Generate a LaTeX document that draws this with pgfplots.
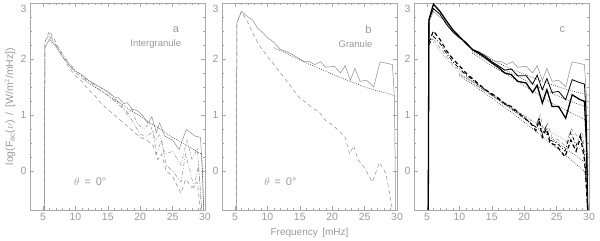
\documentclass[border=0pt]{standalone}
\usepackage{fontspec}
\setmainfont{Liberation Sans}
\usepackage{pgfplots}
\pgfplotsset{compat=1.18}

\definecolor{frame}{HTML}{A8A8A8}
\definecolor{txt}{HTML}{9A9A9A}
\definecolor{ln}{HTML}{8C8C8C}

\pgfplotsset{
  panel/.style={
    scale only axis, width=175pt, height=207pt,
    xmin=3, xmax=30, ymin=-0.7, ymax=3,
    xtick={5,10,...,30}, ytick={0,1,2,3},
    yticklabels={0,1,2,\smash{\raisebox{-9pt}{3}}},
    minor x tick num=4, minor y tick num=3,
    tick align=inside, major tick length=4pt, minor tick length=2pt,
    axis line style={draw=frame, line width=0.6pt},
    tick style={draw=frame, line width=0.4pt},
    tick label style={font=\fontsize{10.5}{12}\selectfont, text=txt},
    label style={font=\fontsize{10}{12}\selectfont, text=txt},
    /pgf/number format/assume math mode=true,
    clip=true,
  },
  gs/.style={ln, line width=0.5pt},
  gd/.style={ln, line width=0.5pt, dash pattern=on 4pt off 3pt},
  gdd/.style={ln, line width=0.5pt, dash pattern=on 4pt off 2pt on 1pt off 2pt},
  gddd/.style={ln, line width=0.5pt, dash pattern=on 3pt off 1.5pt on 0.8pt off 1.5pt on 0.8pt off 1.5pt},
  dot/.style={black!80, line width=0.6pt, dash pattern=on 0.7pt off 1.3pt},
  gdot/.style={ln, line width=0.5pt, dash pattern=on 0.7pt off 1.3pt},
}

\begin{document}
\begin{tikzpicture}
% ---------- panel a
\begin{axis}[panel, at={(0pt,0pt)},
  ylabel={log(F$_{\mathrm{ac}}$($\nu$)\, /\, [W/m$^2$/mHz])},
  every axis y label/.style={at={(axis description cs:-0.115,0.5)}, rotate=90, anchor=center,
    text=txt, font=\fontsize{10.5}{12}\selectfont},
]
\addplot[gs] coordinates {(5.2,-0.7)(5.3,2.2)(6,2.35)(7,2.22)(8,2.05)(9,1.9)(10,1.78)(11,1.72)(12,1.62)(13,1.55)(14,1.48)(15,1.42)(16,1.32)(16.7,1.3)(17.5,1.2)(18,1.22)(18.8,1.1)(19.5,1.08)(20.3,1.0)(21.2,0.85)(21.8,0.97)(22.5,0.68)(23,0.86)(23.8,0.62)(25,0.55)(26,0.38)(27.1,0.74)(28.5,0.62)(29.3,0.6)(29.6,0.0)(29.8,-0.7)};
\addplot[dot] coordinates {(11,1.65)(13,1.5)(15,1.35)(17,1.2)(19,1.05)(21,0.9)(23,0.75)(25,0.6)(27,0.47)(29,0.33)(29.5,0.3)(29.8,-0.7)};
\addplot[gd] coordinates {(5.2,-0.7)(5.3,2.3)(6,2.5)(7,2.3)(8,2.05)(9,1.85)(10,1.7)(11,1.6)(12,1.45)(13,1.35)(14,1.2)(15,1.1)(16,1.0)(17,0.9)(18,0.8)(19,0.7)(20,0.6)(21,0.55)(22,0.45)(22.7,0.2)(23.3,0.3)(24,0.0)(25,-0.1)(26.3,-0.4)(27,-0.15)(28,-0.3)(28.8,-0.2)(29.3,-0.7)};
\addplot[gdd] coordinates {(5.2,-0.7)(5.3,2.3)(6,2.45)(7,2.25)(8,2.05)(9,1.9)(10,1.75)(11,1.68)(12,1.6)(13,1.52)(14,1.42)(15,1.35)(16,1.25)(17,1.15)(18,1.05)(19,0.85)(20,0.65)(21,0.62)(22,0.7)(22.5,0.3)(23.3,0.55)(24,0.1)(25,0.0)(26.3,-0.2)(27,0.3)(27.7,0.0)(28.3,-0.3)(29,0.1)(29.5,-0.7)};
\addplot[gddd] coordinates {(6,2.4)(7,2.25)(8,2.1)(9,1.93)(10,1.8)(11,1.7)(12,1.62)(13,1.55)(14,1.48)(15,1.4)(16,1.3)(17,1.2)(18,1.0)(18.7,1.1)(19.5,0.85)(20.5,0.75)(21.5,0.85)(22.3,0.55)(23,0.65)(23.8,0.3)(25,0.35)(26.3,0.1)(27.2,0.55)(28,0.2)(28.8,0.4)(29.5,-0.7)};
\node[text=txt, font=\fontsize{11}{12}\selectfont] at (axis cs:25.5,2.52) {a};
\node[text=txt, font=\fontsize{9.5}{11}\selectfont] at (axis cs:22.4,2.27) {Intergranule};
\node[text=txt, font=\fontsize{11}{12}\selectfont] at (axis cs:12.3,-0.2) {$\theta$ \,=\, 0°};
\end{axis}
% ---------- panel b
\begin{axis}[panel, at={(192pt,0pt)}, xlabel={Frequency\, [mHz]}]
\addplot[gs] coordinates {(5.2,-0.7)(5.3,2.65)(6,2.85)(7,2.75)(7.7,2.7)(8.5,2.55)(9.3,2.47)(10,2.38)(11,2.3)(12,2.17)(13,2.13)(14,2.07)(15,2.0)(15.7,1.95)(16.5,1.95)(17.3,1.9)(18.2,1.95)(19,1.85)(20.3,1.87)(21.3,1.75)(22,1.88)(22.8,1.62)(23.5,1.83)(24.3,1.6)(25.3,1.62)(26.4,1.5)(27.4,1.95)(28.5,1.92)(29.3,1.9)(29.6,1.3)(29.8,-0.7)};
\addplot[dot] coordinates {(11,2.2)(13,2.1)(15,1.98)(17,1.88)(19,1.78)(21,1.68)(23,1.59)(25,1.5)(27,1.43)(29,1.37)(29.8,1.33)};
\addplot[gd] coordinates {(5.2,-0.7)(5.3,2.65)(6,2.85)(7,2.65)(8,2.4)(9,2.2)(10,2.05)(11,1.9)(12,1.75)(13,1.6)(14,1.45)(15,1.3)(16,1.22)(17,1.12)(18,1.05)(19,0.9)(20,0.82)(21,0.72)(22,0.6)(22.7,0.3)(23.3,0.45)(24,0.2)(25,0.05)(26.2,-0.2)(27.3,0.15)(28.3,-0.05)(29.3,-0.7)};
\node[text=txt, font=\fontsize{11}{12}\selectfont] at (axis cs:25.6,2.53) {b};
\node[text=txt, font=\fontsize{9.5}{11}\selectfont] at (axis cs:23.6,2.27) {Granule};
\node[text=txt, font=\fontsize{11}{12}\selectfont] at (axis cs:12,-0.2) {$\theta$ \,=\, 0°};
\end{axis}
% ---------- panel c
\begin{axis}[panel, at={(384pt,0pt)}]
% upper group
\addplot[dot] coordinates {(12,2.15)(15,1.98)(18,1.82)(21,1.68)(24,1.55)(27,1.44)(30,1.35)};
\addplot[dot] coordinates {(12,2.13)(15,1.93)(18,1.75)(21,1.57)(24,1.4)(27,1.25)(30,1.12)};
\addplot[dot] coordinates {(12,2.1)(15,1.88)(18,1.67)(21,1.45)(24,1.23)(27,1.05)(30,0.88)};
\addplot[gs] coordinates {(5.2,-0.7)(5.3,2.65)(6,2.85)(7,2.75)(7.7,2.7)(8.5,2.55)(9.3,2.47)(10,2.38)(11,2.3)(12,2.17)(13,2.13)(14,2.07)(15,2.0)(15.7,1.95)(16.5,1.95)(17.3,1.9)(18.2,1.95)(19,1.85)(20.3,1.87)(21.3,1.75)(22,1.88)(22.8,1.62)(23.5,1.83)(24.3,1.6)(25.3,1.62)(26.4,1.5)(27.4,1.95)(28.5,1.92)(29.3,1.9)(29.6,1.3)(29.8,-0.7)};
\addplot[black, line width=0.8pt] coordinates {(5.2,-0.7)(5.3,2.7)(6,2.9)(7,2.8)(8,2.62)(9,2.48)(10,2.38)(11,2.3)(12,2.17)(13,2.12)(14,2.05)(15,1.95)(16,1.88)(17,1.8)(18,1.82)(19,1.7)(20.3,1.7)(21.3,1.55)(22,1.71)(22.8,1.45)(23.5,1.65)(24.3,1.4)(25.3,1.42)(26.4,1.27)(27.4,1.63)(28.5,1.58)(29.3,1.55)(29.6,0.9)(29.8,-0.7)};
\addplot[black, line width=1.3pt] coordinates {(5.2,-0.7)(5.3,2.7)(6,2.98)(7,2.85)(8,2.68)(9,2.52)(10,2.4)(11,2.28)(12,2.17)(13,2.1)(14,2.02)(15,1.93)(16,1.85)(17,1.75)(18,1.72)(19,1.6)(20.3,1.57)(21.3,1.4)(22,1.53)(22.8,1.21)(23.5,1.45)(24.3,1.15)(25.3,1.15)(26.4,0.94)(27.4,1.36)(28.5,1.28)(29.3,1.24)(29.6,0.5)(29.8,-0.7)};
% lower group
\addplot[gdot] coordinates {(6,2.3)(8,2.0)(10,1.75)(12,1.6)(15,1.38)(18,1.15)(21,0.92)(24,0.7)(27,0.5)(30,0.3)};
\addplot[dot] coordinates {(10,1.73)(12,1.58)(15,1.35)(18,1.1)(21,0.85)(24,0.6)(27,0.35)(30,0.1)};
\addplot[dot] coordinates {(10,1.7)(12,1.55)(15,1.3)(18,1.05)(21,0.78)(24,0.5)(27,0.22)(30,-0.08)};
\addplot[gd] coordinates {(6,2.35)(7,2.2)(8,2.05)(9,1.9)(10,1.8)(11,1.7)(12,1.6)(13,1.5)(14,1.42)(15,1.35)(16,1.27)(17,1.2)(18,1.12)(19,1.05)(20,0.98)(21,0.9)(22,0.85)(22.5,1.0)(23,0.7)(23.6,0.85)(24.3,0.6)(25.3,0.55)(26.3,0.45)(27.3,0.75)(28.3,0.6)(29,0.7)(29.5,0.0)(29.8,-0.7)};
\addplot[black, line width=0.7pt, dash pattern=on 4pt off 2pt on 1pt off 2pt] coordinates {(5.3,2.25)(6,2.4)(7,2.28)(8,2.1)(9,1.95)(10,1.83)(11,1.72)(12,1.63)(13,1.53)(14,1.45)(15,1.36)(16,1.28)(17,1.2)(18,1.12)(19,1.03)(20,0.95)(21,0.85)(21.8,0.78)(22.3,0.95)(22.8,0.65)(23.4,0.8)(24,0.55)(25,0.5)(26.3,0.35)(27.2,0.7)(28,0.45)(28.7,0.65)(29.3,0.3)(29.6,-0.3)(29.8,-0.7)};
\addplot[black, line width=1.2pt, dash pattern=on 4pt off 3pt] coordinates {(5.3,2.3)(6,2.5)(7,2.35)(8,2.15)(9,2.0)(10,1.88)(11,1.75)(12,1.65)(13,1.55)(14,1.45)(15,1.38)(16,1.3)(17,1.2)(18,1.15)(19,1.05)(20,0.95)(21,0.85)(21.8,0.72)(22.3,0.9)(22.8,0.6)(23.4,0.75)(24,0.5)(25,0.45)(26.3,0.25)(27.2,0.55)(28,0.35)(28.7,0.6)(29.3,0.2)(29.6,-0.3)(29.8,-0.7)};
\node[text=txt, font=\fontsize{11}{12}\selectfont] at (axis cs:25.9,2.53) {c};
\end{axis}
\pgfresetboundingbox
\path[use as bounding box] (-30pt,-31pt) rectangle (570pt,210pt);
\end{tikzpicture}
\end{document}
